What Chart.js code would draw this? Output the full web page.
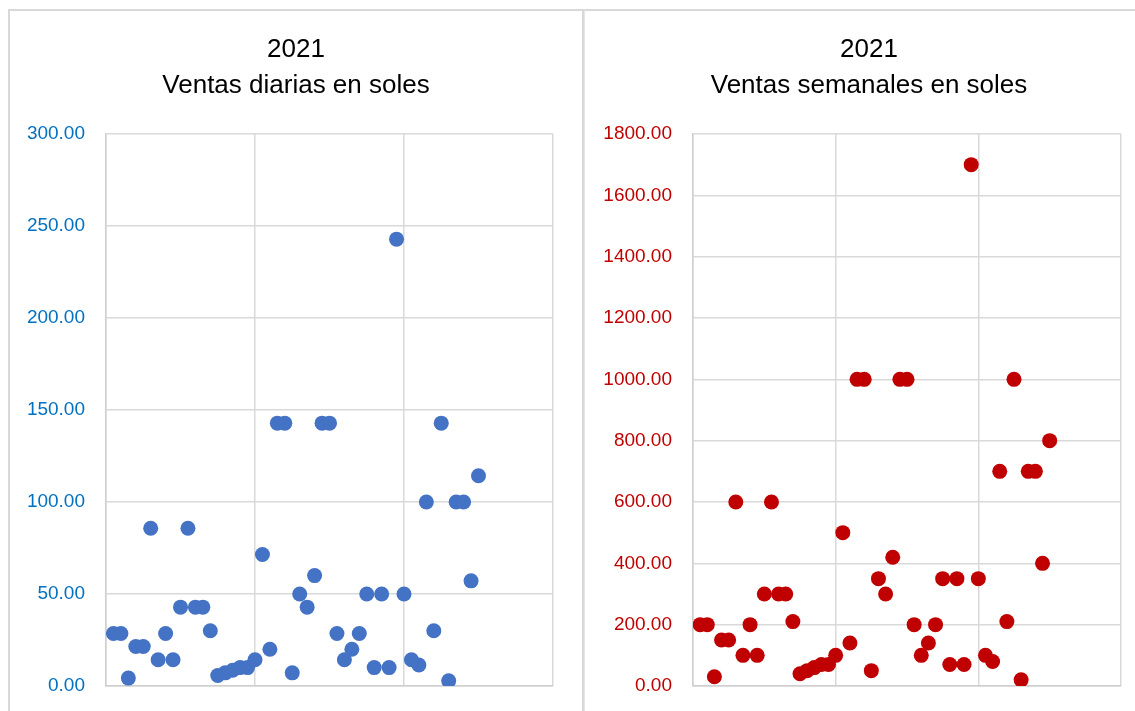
<!DOCTYPE html>
<html>
<head>
<meta charset="utf-8">
<script src="https://cdn.jsdelivr.net/npm/chart.js@4.4.0/dist/chart.umd.min.js"></script>
<style>
    html, body { margin: 0; padding: 0; background: #fff; overflow: hidden; }
    body { width: 1135px; height: 711px; position: relative; }
    .panel { position: absolute; box-sizing: border-box; }
    .wrap { position: absolute; }
</style>
</head>
<body>
<div class="panel" style="left:8px; top:9px; width:576px; height:760px; border-left:2px solid #d9d9d9; border-top:2px solid #d9d9d9; border-right:2px solid #d9d9d9;"></div>
<div class="panel" style="left:584px; top:9px; width:600px; height:760px; border-left:1px solid #e6e6e6; border-top:2px solid #d9d9d9;"></div>
<div class="wrap" style="left:10px; top:11px; width:572px; height:720px;"><canvas id="dailyChart"></canvas></div>
<div class="wrap" style="left:586px; top:11px; width:566px; height:720px;"><canvas id="weeklyChart"></canvas></div>

<script>
// Sales data (2021)

// daily sales, soles
const dailySales = [
    28.57, 28.57, 4.29, 21.43, 21.43, 85.71, 14.29, 28.57, 14.29, 42.86,
    85.71, 42.86, 42.86, 30.00, 5.71, 7.14, 8.57, 10.00, 10.00, 14.29,
    71.43, 20.00, 142.86, 142.86, 7.14, 50.00, 42.86, 60.00, 142.86, 142.86,
    28.57, 14.29, 20.00, 28.57, 50.00, 10.00, 50.00, 10.00, 242.86, 50.00,
    14.29, 11.43, 100.00, 30.00, 142.86, 2.86, 100.00, 100.00, 57.14, 114.29
];

// weekly sales, soles
const weeklySales = [
    200, 200, 30, 150, 150, 600, 100, 200, 100, 300,
    600, 300, 300, 210, 40, 50, 60, 70, 70, 100,
    500, 140, 1000, 1000, 50, 350, 300, 420, 1000, 1000,
    200, 100, 140, 200, 350, 70, 350, 70, 1700, 350,
    100, 80, 700, 210, 1000, 20, 700, 700, 400, 800
];

const dailyTitle = ['2021', 'Ventas diarias en soles'];
const weeklyTitle = ['2021', 'Ventas semanales en soles'];

const dailyTicks = { min: 0, max: 300, step: 50 };
const weeklyTicks = { min: 0, max: 1800, step: 200 };
const xTicks = { min: 0, max: 60, step: 20 };

const FONT = '"Liberation Sans", Arial, sans-serif';
const GRID = '#d9d9d9';

document.addEventListener('DOMContentLoaded', function() {
    makeScatter('dailyChart', dailySales, dailyTitle, dailyTicks, '#4472c4', '#0070c0', 96, 29);
    makeScatter('weeklyChart', weeklySales, weeklyTitle, weeklyTicks, '#c00000', '#c00000', 107, 31);
});

// Build one scatter chart, points indexed 1..n
function makeScatter(id, values, title, yTicks, pointColor, tickColor, yWidth, rightGap) {
    const ctx = document.getElementById(id).getContext('2d');
    const points = values.map((v, i) => ({ x: i + 1, y: v }));

    new Chart(ctx, {
        type: 'scatter',
        data: {
            datasets: [{
                data: points,
                backgroundColor: pointColor,
                borderWidth: 0,
                pointRadius: 7.5,
                pointHoverRadius: 7.5
            }]
        },
        options: {
            responsive: true,
            maintainAspectRatio: false,
            animation: false,
            layout: {
                padding: { left: 0, right: 0, top: 0, bottom: 45 }
            },
            plugins: {
                legend: { display: false },
                tooltip: { enabled: false },
                title: {
                    display: true,
                    text: title,
                    color: '#000',
                    font: { family: FONT, size: 26, lineHeight: 36 / 26, weight: 'normal' },
                    padding: { top: 21, bottom: 30 }
                }
            },
            scales: {
                x: {
                    type: 'linear',
                    min: xTicks.min,
                    max: xTicks.max,
                    ticks: { display: false, stepSize: xTicks.step },
                    grid: { color: GRID, lineWidth: 1.5, drawTicks: false },
                    border: { color: '#cfcfcf', width: 1.5 },
                    afterFit: function(axis) { axis.height = 0; }
                },
                y: {
                    min: yTicks.min,
                    max: yTicks.max,
                    ticks: {
                        stepSize: yTicks.step,
                        color: tickColor,
                        padding: 21,
                        font: { family: FONT, size: 19 },
                        callback: function(value) { return value.toFixed(2); }
                    },
                    grid: { color: GRID, lineWidth: 1.5, drawTicks: false },
                    border: { color: '#cfcfcf', width: 1.5 },
                    afterFit: function(axis) { axis.width = yWidth; }
                },
                // empty right axis: keeps a blank gap so the title stays centred on the panel
                gap: {
                    type: 'linear',
                    position: 'right',
                    ticks: { display: false },
                    grid: { display: false, drawTicks: false },
                    border: { display: false },
                    afterFit: function(axis) { axis.width = rightGap; }
                }
            }
        }
    });
}
</script>
</body>
</html>
